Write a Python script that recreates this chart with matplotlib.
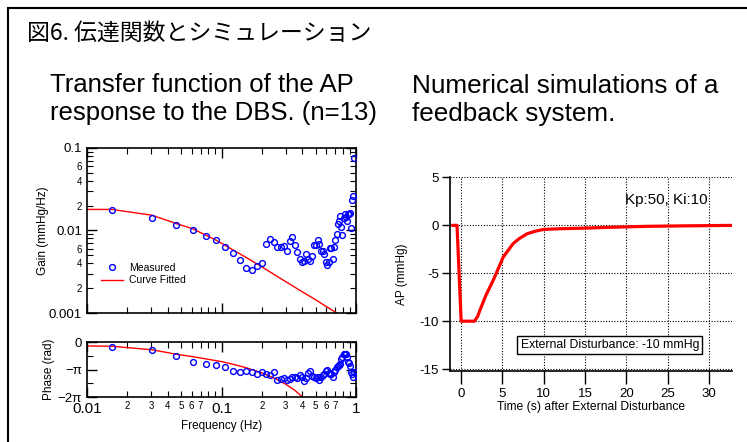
import numpy as np
import matplotlib
matplotlib.use('Agg')
import matplotlib.pyplot as plt
from matplotlib.patches import Rectangle
from matplotlib.ticker import LogLocator, FixedLocator, NullFormatter, FuncFormatter

plt.rcParams['font.family'] = ['Liberation Sans', 'DejaVu Sans']
plt.rcParams['axes.unicode_minus'] = False

## data
# measured transfer function (frequency index k -> f = k * df)
df_hz = 0.01526
meas_k = list(range(1, 64))
meas_gain = [0.0179, 0.0142, 0.0117, 0.0102, 0.00865, 0.0076, 0.0063, 0.0053, 0.00435, 0.0035,
             0.0033, 0.0037, 0.0040, 0.0069, 0.0078, 0.0073, 0.0063, 0.0063, 0.0065, 0.00565,
             0.0075, 0.0083, 0.0066, 0.0055, 0.0045, 0.0041, 0.0043, 0.0052, 0.0045, 0.0043,
             0.0049, 0.0066, 0.0067, 0.0077, 0.0068, 0.0056, 0.0057, 0.0052, 0.0042, 0.00385,
             0.0042, 0.0061, 0.0061, 0.0045, 0.0063, 0.0076, 0.0091, 0.0119, 0.0130, 0.0148,
             0.0109, 0.0087, 0.0140, 0.0160, 0.0147, 0.0129, 0.0158, 0.0160, 0.0165, 0.0108,
             0.0234, 0.0264, 0.0760]
# phase in units of pi
meas_phase_pi = [-0.16, -0.28, -0.48, -0.70, -0.78, -0.83, -0.90, -1.06, -1.10, -1.04,
                 -1.10, -1.14, -1.09, -1.14, -1.21, -1.09, -1.36, -1.33, -1.32, -1.36,
                 -1.33, -1.28, -1.25, -1.30, -1.21, -1.26, -1.40, -1.30, -1.12, -1.06,
                 -1.23, -1.26, -1.30, -1.28, -1.38, -1.25, -1.21, -1.17, -1.04, -1.01,
                 -1.11, -1.16, -1.14, -1.26, -1.10, -1.01, -0.89, -0.86, -0.81, -0.80,
                 -0.60, -0.54, -0.42, -0.41, -0.43, -0.54, -0.72, -0.74, -0.86, -1.10,
                 -1.16, -1.28, -1.09]

# fitted curve
fit_freq = [0.01, 0.0153, 0.0305, 0.0458, 0.061, 0.0763, 0.0916, 0.122, 0.153, 0.198,
            0.3, 0.4, 0.5, 0.6, 0.72, 0.8]
fit_gain = [0.0180, 0.0180, 0.0153, 0.0122, 0.0105, 0.0088, 0.0076, 0.0058, 0.0047, 0.00365,
            0.0024, 0.0018, 0.00145, 0.0012, 0.0010, 0.0009]
fitp_freq = [0.01, 0.0153, 0.0305, 0.0458, 0.061, 0.0916, 0.1, 0.122, 0.153, 0.198,
             0.25, 0.3, 0.35, 0.4, 0.45]
fitp_phase_pi = [-0.13, -0.14, -0.27, -0.43, -0.52, -0.67, -0.70, -0.80, -0.93, -1.11,
                 -1.32, -1.53, -1.75, -2.0, -2.25]

# simulation
sim_t = [-1.0, -0.5, 0.0, 1.6, 2.0, 2.3, 3.0, 3.9, 5.1, 6.3, 7.0, 8.0, 9.0, 10.0,
         12.0, 14.4, 18.0, 22.5, 27.0, 33.0]
sim_ap = [0, 0, -10, -10, -9.5, -8.8, -7.3, -5.7, -3.3, -1.9, -1.4, -0.87, -0.6, -0.42,
          -0.35, -0.3, -0.2, -0.1, -0.05, 0]

W, H = 747, 442
fig = plt.figure(figsize=(W / 100, H / 100), dpi=100)

def fx(px):
    return px / W

def fy(py):
    return 1 - py / H

# outer frame
fig.patches.append(Rectangle((fx(8), -0.1), 1.2, fy(8) + 0.1, transform=fig.transFigure,
                             fill=False, lw=1.5, ec='black'))

fig.text(fx(27), fy(33), '図6. 伝達関数とシミュレーション', fontsize=16.5,
         family=['Noto Sans CJK JP', 'DejaVu Sans'], va='center', ha='left')
fig.text(fx(50), fy(99), 'Transfer function of the AP\nresponse to the DBS. (n=13)',
         fontsize=18.5, va='center', ha='left', linespacing=1.22)
fig.text(fx(412), fy(100), 'Numerical simulations of a\nfeedback system.',
         fontsize=18.8, va='center', ha='left', linespacing=1.22)

meas_f = np.array(meas_k) * df_hz

def logx_setup(ax, labels):
    ax.set_xscale('log')
    ax.set_xlim(0.01, 1.0)
    ax.xaxis.set_major_locator(FixedLocator([0.01, 0.1, 1]))
    ax.xaxis.set_minor_locator(LogLocator(base=10, subs=np.arange(2, 10)))
    if labels:
        ax.xaxis.set_major_formatter(FuncFormatter(lambda v, p: {0.01: '0.01', 0.1: '0.1', 1: '1'}.get(round(v, 2), '')))
        def mfmt(v, p):
            d = int(round(v / 10 ** np.floor(np.log10(v) + 1e-9)))
            return str(d) if d in (2, 3, 4, 5, 6, 7) else ''
        ax.xaxis.set_minor_formatter(FuncFormatter(mfmt))
    else:
        ax.xaxis.set_major_formatter(NullFormatter())
        ax.xaxis.set_minor_formatter(NullFormatter())
    ax.tick_params(which='both', direction='in', top=True, right=True)
    ax.tick_params(which='major', length=7, width=1, labelsize=11)
    ax.tick_params(which='minor', length=4, width=0.8, labelsize=7)
    for s in ax.spines.values():
        s.set_linewidth(1.2)

# gain
axg = fig.add_axes([fx(87), fy(313), fx(356) - fx(87), fy(148) - fy(313)])
axg.plot(fit_freq, fit_gain, color='#ff0000', lw=1, label='Curve Fitted', zorder=2)
axg.plot(meas_f, meas_gain, 'o', ms=4.2, mfc='none', mec='#0000ff', mew=1,
         label='Measured', zorder=3)
logx_setup(axg, False)
axg.set_yscale('log')
axg.set_ylim(0.001, 0.1)
axg.yaxis.set_major_formatter(FuncFormatter(lambda v, p: {-3: '0.001', -2: '0.01', -1: '0.1'}.get(int(round(np.log10(v))), '')))
def gfmt(v, p):
    d = int(round(v / 10 ** np.floor(np.log10(v) + 1e-9)))
    return str(d) if d in (2, 4, 6) else ''
axg.yaxis.set_minor_locator(LogLocator(base=10, subs=np.arange(2, 10)))
axg.yaxis.set_minor_formatter(FuncFormatter(gfmt))
axg.tick_params(axis='y', which='major', labelsize=9.5)
axg.set_ylabel('Gain (mmHg/Hz)', fontsize=8.5, labelpad=0)
h, l = axg.get_legend_handles_labels()
axg.legend(h[::-1], l[::-1], loc='upper left', bbox_to_anchor=(0.035, 0.33), frameon=False,
           fontsize=7.5, handlelength=2.2, borderaxespad=0, labelspacing=0.25, handletextpad=0.5)

# phase
axp = fig.add_axes([fx(87), fy(397), fx(356) - fx(87), fy(342) - fy(397)])
axp.plot(fitp_freq, np.array(fitp_phase_pi) * np.pi, color='#ff0000', lw=1, zorder=2)
axp.plot(meas_f, np.array(meas_phase_pi) * np.pi, 'o', ms=4.2, mfc='none', mec='#0000ff',
         mew=1, zorder=3)
logx_setup(axp, True)
axp.set_ylim(-2 * np.pi, 0.05)
axp.set_yticks([0, -np.pi, -2 * np.pi])
axp.set_yticklabels(['0', '\u2212\u03c0', '\u22122\u03c0'])
axp.yaxis.set_minor_locator(FixedLocator([-np.pi / 2, -3 * np.pi / 2]))
axp.tick_params(axis='y', which='major', labelsize=9.5)
axp.set_ylabel('Phase (rad)', fontsize=8.5, labelpad=2)
axp.set_xlabel('Frequency (Hz)', fontsize=8.5, labelpad=3)
axp.tick_params(axis='x', which='minor', pad=3)

# simulation
axs = fig.add_axes([fx(450), fy(371), fx(732) - fx(450), fy(177) - fy(371)])
axs.plot(sim_t, sim_ap, color='#ff0000', lw=2.3, solid_joinstyle='round')
axs.set_xlim(-1.35, 32.8)
axs.set_ylim(-15.2, 5.05)
axs.set_xticks(range(0, 31, 5))
axs.set_yticks(range(-15, 6, 5))
axs.grid(True, ls=(0, (1, 1.5)), color='black', lw=0.8)
axs.spines['top'].set_visible(False)
axs.spines['right'].set_visible(False)
axs.spines['left'].set_linewidth(1.2)
axs.spines['bottom'].set_linewidth(1.2)
axs.tick_params(axis='x', length=9, width=1, labelsize=9.5, pad=3)
axs.tick_params(axis='y', length=6, width=1, labelsize=9.5, pad=2)
axs.set_ylabel('AP (mmHg)', fontsize=8.5, labelpad=8)
axs.set_xlabel('Time (s) after External Disturbance', fontsize=8.7, labelpad=1)
axs.text(19.9, 2.7, 'Kp:50, Ki:10', fontsize=11, va='center', ha='left')
axs.text(18.0, -12.5, 'External Disturbance: -10 mmHg', fontsize=8.8, va='center', ha='center',
         bbox=dict(boxstyle='square,pad=0.25', fc='white', ec='black', lw=1))

fig.savefig('out.png', dpi=100)
